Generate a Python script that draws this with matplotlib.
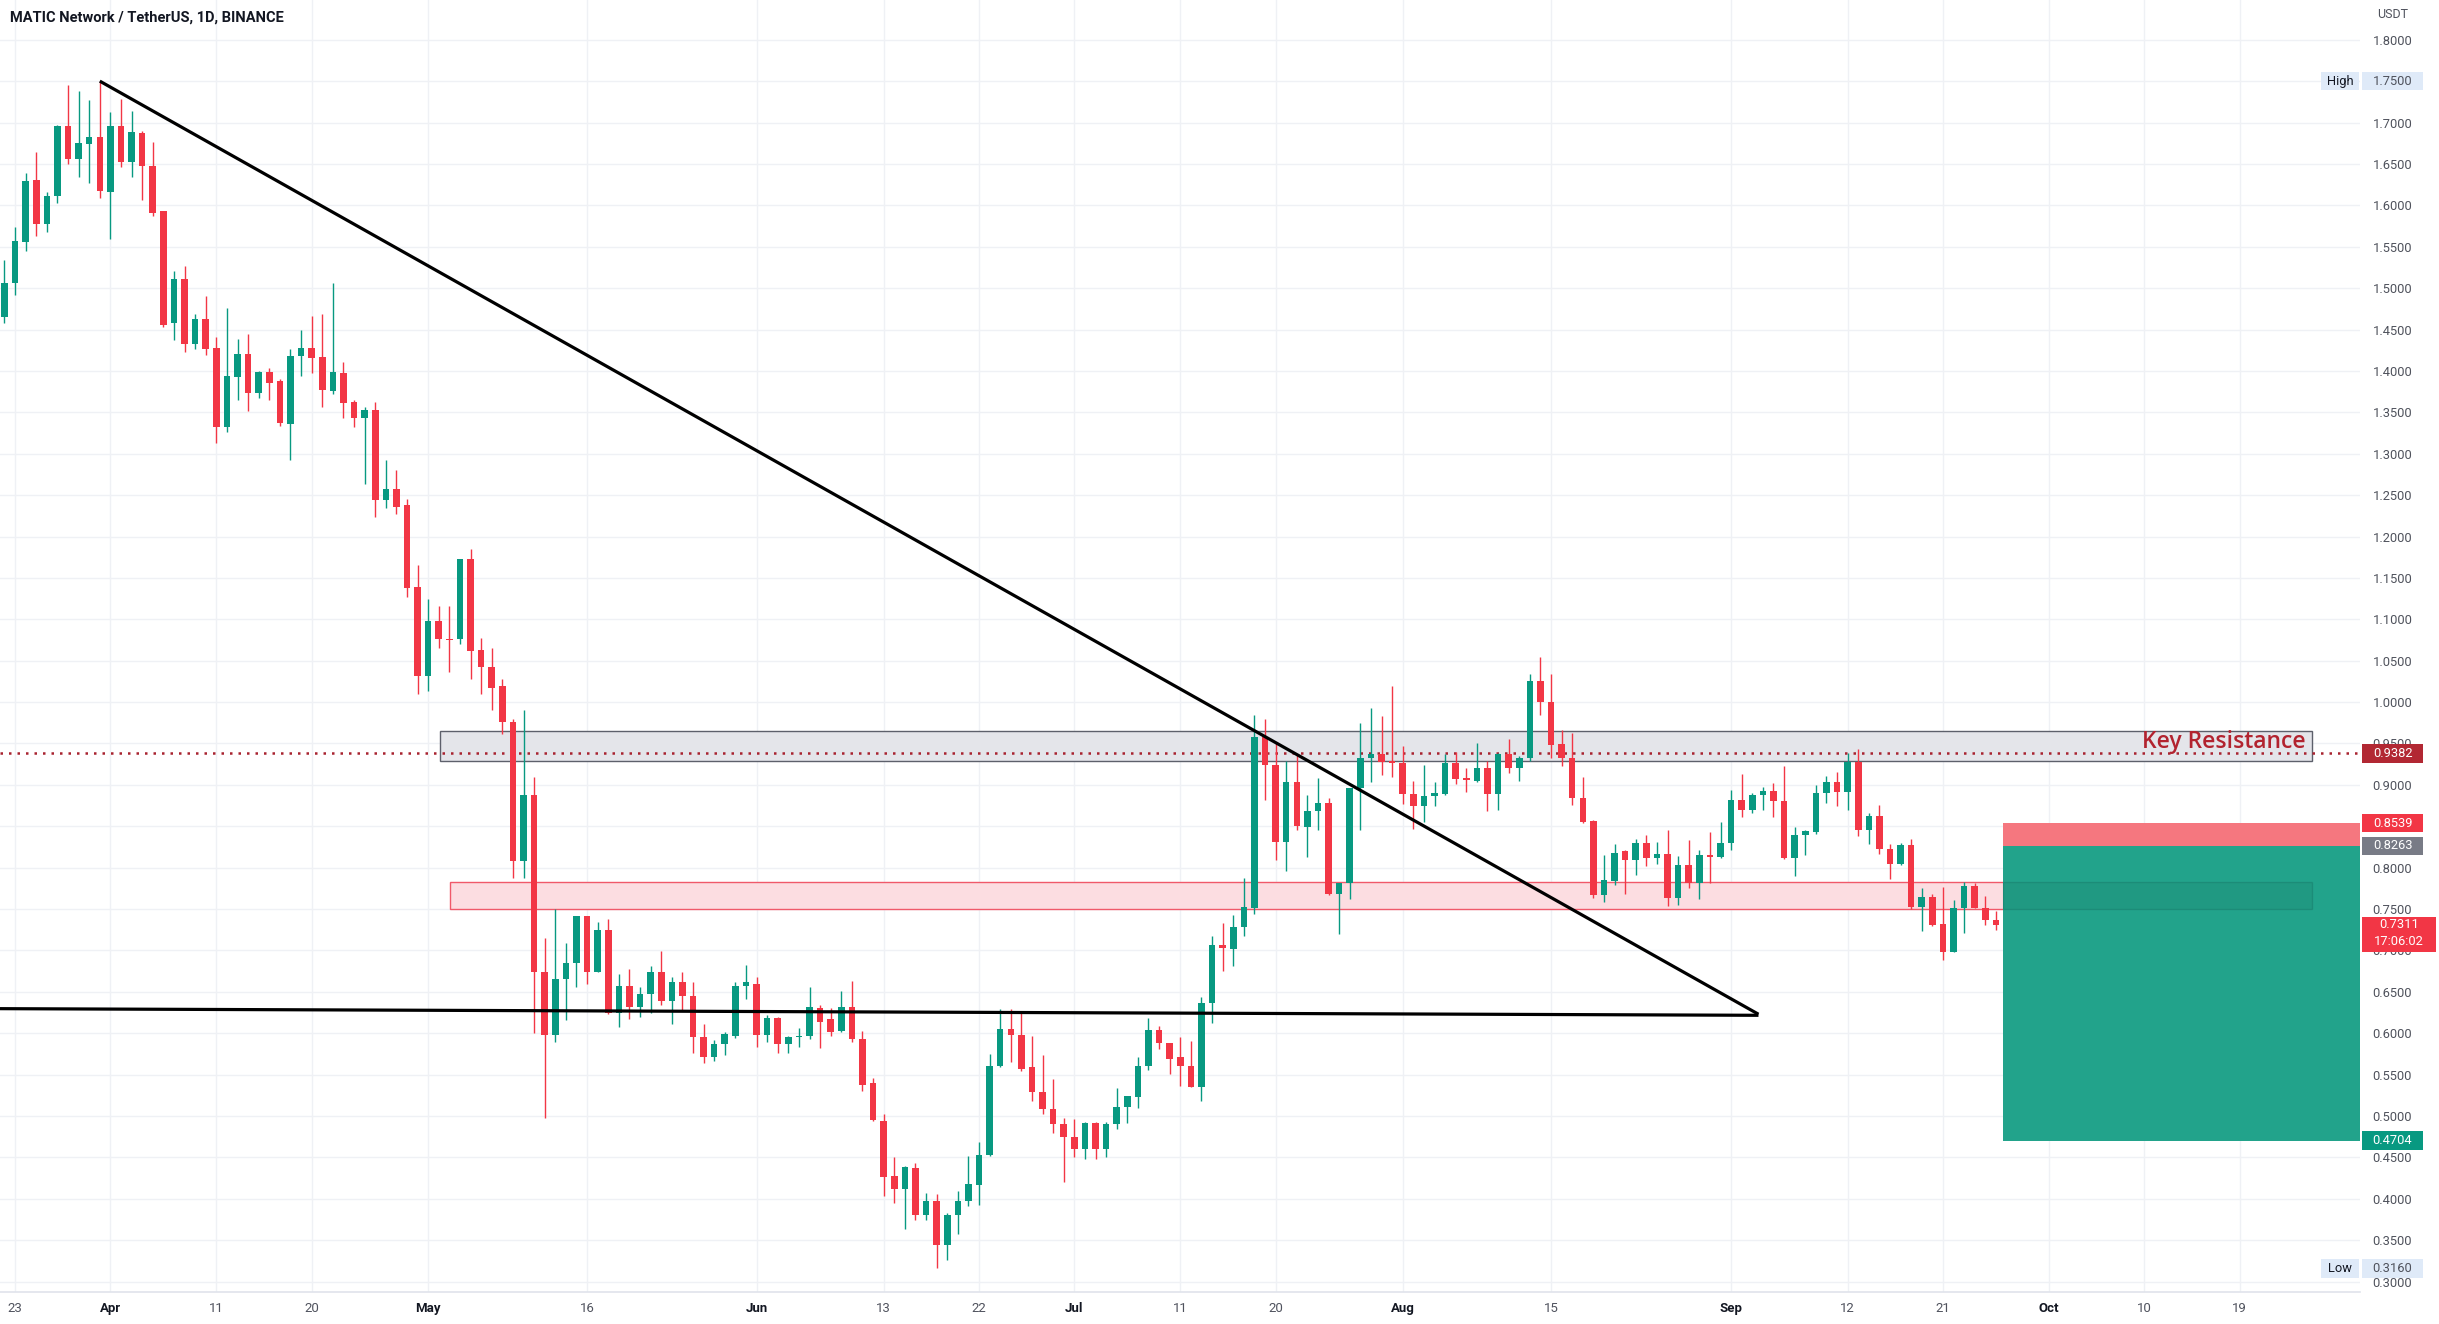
import matplotlib
matplotlib.use("Agg")
import matplotlib.pyplot as plt
import matplotlib.dates as mdates
import matplotlib.transforms as mtransforms
from matplotlib.patches import Rectangle
import numpy as np
import pandas as pd

plt.rcParams['font.family'] = ['Roboto', 'DejaVu Sans']

# MATIC / USDT daily candles, 2022-03-22 .. 2022-09-26
start_date = "2022-03-22"
opens = [
    1.465, 1.506, 1.556, 1.630, 1.578, 1.611, 1.696, 1.656, 1.674, 1.682,
    1.616, 1.696, 1.652, 1.687, 1.647, 1.593, 1.458, 1.511, 1.432, 1.463,
    1.428, 1.332, 1.393, 1.420, 1.373, 1.399, 1.388, 1.336, 1.418, 1.428,
    1.417, 1.376, 1.397, 1.363, 1.343, 1.353, 1.244, 1.257, 1.238, 1.139,
    1.031, 1.098, 1.076, 1.076, 1.173, 1.063, 1.042, 1.019, 0.976, 0.808,
    0.888, 0.674, 0.598, 0.665, 0.685, 0.742, 0.674, 0.725, 0.625, 0.657,
    0.632, 0.648, 0.674, 0.639, 0.662, 0.645, 0.596, 0.571, 0.587, 0.597,
    0.657, 0.660, 0.598, 0.619, 0.587, 0.595, 0.597, 0.631, 0.617, 0.603,
    0.632, 0.593, 0.540, 0.494, 0.428, 0.412, 0.437, 0.381, 0.398, 0.344,
    0.381, 0.398, 0.417, 0.453, 0.561, 0.605, 0.598, 0.559, 0.529, 0.509,
    0.490, 0.475, 0.460, 0.492, 0.460, 0.490, 0.511, 0.523, 0.561, 0.604,
    0.588, 0.571, 0.561, 0.535, 0.637, 0.707, 0.702, 0.728, 0.751, 0.958,
    0.924, 0.831, 0.904, 0.849, 0.869, 0.878, 0.768, 0.782, 0.896, 0.933,
    0.937, 0.929, 0.926, 0.889, 0.875, 0.887, 0.889, 0.926, 0.908, 0.905,
    0.921, 0.889, 0.937, 0.920, 0.933, 1.025, 1.000, 0.949, 0.933, 0.884,
    0.856, 0.767, 0.784, 0.820, 0.809, 0.830, 0.812, 0.817, 0.763, 0.803,
    0.781, 0.815, 0.813, 0.830, 0.882, 0.870, 0.888, 0.893, 0.880, 0.812,
    0.839, 0.843, 0.890, 0.904, 0.892, 0.928, 0.845, 0.863, 0.823, 0.804,
    0.827, 0.752, 0.765, 0.732, 0.698, 0.751, 0.778, 0.751, 0.737,
]
highs = [
    1.534, 1.574, 1.639, 1.664, 1.616, 1.697, 1.745, 1.738, 1.727, 1.750,
    1.713, 1.729, 1.714, 1.690, 1.676, 1.593, 1.521, 1.527, 1.469, 1.490,
    1.441, 1.476, 1.438, 1.444, 1.400, 1.403, 1.390, 1.426, 1.450, 1.466,
    1.469, 1.506, 1.411, 1.365, 1.357, 1.363, 1.292, 1.280, 1.245, 1.165,
    1.124, 1.116, 1.116, 1.173, 1.185, 1.078, 1.065, 1.028, 0.980, 0.990,
    0.910, 0.715, 0.750, 0.709, 0.742, 0.742, 0.734, 0.738, 0.672, 0.678,
    0.656, 0.681, 0.699, 0.668, 0.674, 0.662, 0.611, 0.592, 0.601, 0.662,
    0.682, 0.668, 0.622, 0.620, 0.597, 0.606, 0.656, 0.634, 0.631, 0.651,
    0.663, 0.603, 0.546, 0.503, 0.451, 0.440, 0.443, 0.407, 0.406, 0.383,
    0.409, 0.452, 0.469, 0.575, 0.629, 0.629, 0.627, 0.597, 0.574, 0.545,
    0.498, 0.496, 0.493, 0.493, 0.493, 0.534, 0.524, 0.571, 0.618, 0.609,
    0.588, 0.596, 0.591, 0.644, 0.717, 0.733, 0.743, 0.788, 0.985, 0.979,
    0.952, 0.929, 0.936, 0.888, 0.908, 0.884, 0.782, 0.896, 0.975, 0.993,
    0.983, 1.019, 0.947, 0.905, 0.924, 0.903, 0.937, 0.940, 0.920, 0.950,
    0.929, 0.939, 0.955, 0.935, 1.034, 1.054, 1.034, 0.966, 0.963, 0.909,
    0.857, 0.815, 0.829, 0.821, 0.835, 0.839, 0.831, 0.846, 0.814, 0.833,
    0.821, 0.843, 0.855, 0.894, 0.913, 0.890, 0.898, 0.902, 0.923, 0.849,
    0.845, 0.900, 0.911, 0.916, 0.939, 0.943, 0.866, 0.876, 0.829, 0.830,
    0.835, 0.775, 0.768, 0.777, 0.761, 0.783, 0.781, 0.766, 0.748,
]
lows = [
    1.458, 1.492, 1.545, 1.563, 1.568, 1.603, 1.650, 1.634, 1.627, 1.609,
    1.559, 1.646, 1.634, 1.607, 1.587, 1.453, 1.437, 1.423, 1.426, 1.419,
    1.313, 1.326, 1.365, 1.351, 1.367, 1.365, 1.333, 1.292, 1.394, 1.397,
    1.357, 1.372, 1.343, 1.332, 1.264, 1.224, 1.235, 1.227, 1.127, 1.010,
    1.014, 1.065, 1.036, 1.070, 1.028, 1.010, 0.991, 0.961, 0.788, 0.788,
    0.600, 0.498, 0.590, 0.616, 0.656, 0.659, 0.674, 0.623, 0.608, 0.617,
    0.620, 0.625, 0.634, 0.611, 0.628, 0.576, 0.564, 0.566, 0.574, 0.594,
    0.641, 0.584, 0.590, 0.576, 0.576, 0.583, 0.593, 0.582, 0.597, 0.602,
    0.590, 0.530, 0.494, 0.403, 0.395, 0.363, 0.374, 0.375, 0.316, 0.326,
    0.358, 0.391, 0.392, 0.452, 0.559, 0.565, 0.555, 0.518, 0.503, 0.479,
    0.420, 0.450, 0.448, 0.448, 0.450, 0.484, 0.492, 0.510, 0.556, 0.581,
    0.551, 0.536, 0.535, 0.518, 0.612, 0.675, 0.681, 0.717, 0.744, 0.882,
    0.809, 0.796, 0.845, 0.813, 0.845, 0.767, 0.720, 0.762, 0.845, 0.903,
    0.912, 0.909, 0.877, 0.847, 0.855, 0.875, 0.888, 0.901, 0.892, 0.903,
    0.868, 0.870, 0.914, 0.905, 0.929, 0.985, 0.933, 0.923, 0.876, 0.854,
    0.763, 0.758, 0.779, 0.768, 0.791, 0.802, 0.804, 0.754, 0.755, 0.776,
    0.762, 0.782, 0.812, 0.821, 0.861, 0.866, 0.870, 0.861, 0.811, 0.790,
    0.815, 0.841, 0.878, 0.874, 0.870, 0.838, 0.828, 0.817, 0.786, 0.803,
    0.750, 0.724, 0.729, 0.689, 0.698, 0.721, 0.751, 0.731, 0.725,
]
closes = [
    1.506, 1.557, 1.629, 1.577, 1.611, 1.696, 1.656, 1.675, 1.682, 1.617,
    1.696, 1.652, 1.688, 1.647, 1.591, 1.455, 1.511, 1.432, 1.463, 1.426,
    1.332, 1.394, 1.420, 1.373, 1.399, 1.386, 1.337, 1.418, 1.428, 1.415,
    1.377, 1.399, 1.361, 1.343, 1.353, 1.244, 1.257, 1.236, 1.138, 1.031,
    1.098, 1.076, 1.075, 1.173, 1.062, 1.042, 1.017, 0.976, 0.808, 0.888,
    0.674, 0.598, 0.665, 0.685, 0.742, 0.674, 0.725, 0.625, 0.657, 0.632,
    0.648, 0.674, 0.639, 0.662, 0.645, 0.596, 0.571, 0.587, 0.599, 0.657,
    0.662, 0.598, 0.619, 0.587, 0.595, 0.597, 0.632, 0.614, 0.602, 0.632,
    0.593, 0.537, 0.495, 0.426, 0.412, 0.439, 0.381, 0.397, 0.344, 0.381,
    0.398, 0.418, 0.453, 0.561, 0.605, 0.598, 0.557, 0.529, 0.508, 0.490,
    0.475, 0.460, 0.492, 0.460, 0.491, 0.511, 0.524, 0.561, 0.604, 0.588,
    0.569, 0.561, 0.535, 0.637, 0.707, 0.703, 0.728, 0.752, 0.958, 0.924,
    0.831, 0.904, 0.850, 0.869, 0.878, 0.768, 0.782, 0.896, 0.933, 0.937,
    0.928, 0.926, 0.889, 0.875, 0.887, 0.890, 0.927, 0.907, 0.906, 0.921,
    0.889, 0.937, 0.920, 0.933, 1.025, 1.000, 0.948, 0.933, 0.884, 0.855,
    0.767, 0.785, 0.818, 0.809, 0.830, 0.812, 0.817, 0.763, 0.803, 0.781,
    0.815, 0.813, 0.830, 0.882, 0.870, 0.888, 0.893, 0.880, 0.812, 0.839,
    0.844, 0.890, 0.904, 0.892, 0.928, 0.845, 0.863, 0.822, 0.804, 0.827,
    0.752, 0.765, 0.731, 0.698, 0.751, 0.778, 0.751, 0.737, 0.7311,
]

xtick_dates = ["2022-03-23", "2022-04-01", "2022-04-11", "2022-04-20", "2022-05-01",
               "2022-05-16", "2022-06-01", "2022-06-13", "2022-06-22", "2022-07-01",
               "2022-07-11", "2022-07-20", "2022-08-01", "2022-08-15", "2022-09-01",
               "2022-09-12", "2022-09-21", "2022-10-01", "2022-10-10", "2022-10-19"]
xtick_labels = ["23", "Apr", "11", "20", "May", "16", "Jun", "13", "22", "Jul",
                "11", "20", "Aug", "15", "Sep", "12", "21", "Oct", "10", "19"]
price_ticks = np.round(np.arange(0.30, 1.801, 0.05), 2)

# drawings on the chart
trend_dates = ["2022-03-31", "2022-09-03 14:00"]
trend_prices = [1.750, 0.623]
support_dates = ["2022-03-20", "2022-09-03 14:00"]
support_prices = [0.6298, 0.6217]
resistance_zone = ("2022-05-02 02:00", "2022-10-25 19:00", 0.9285, 0.9655)
demand_zone = ("2022-05-03 02:00", "2022-10-25 19:00", 0.7500, 0.7830)
resistance_level = 0.9382
trade_start = "2022-09-26 17:00"
entry, stop, target = 0.8263, 0.8539, 0.4704
last_price, countdown = 0.7311, "17:06:02"
high_price, low_price = 1.7500, 0.3160

UP, DOWN = "#089981", "#f23645"
W, H = 2439, 1324

dates = pd.date_range(start_date, periods=len(opens), freq="D")
x = mdates.date2num(dates)
o, h, l, c = map(np.array, (opens, highs, lows, closes))
d0 = mdates.date2num(pd.Timestamp(start_date))
dn = lambda s: mdates.date2num(pd.Timestamp(s))

fig = plt.figure(figsize=(W / 100, H / 100), dpi=100)
ax = fig.add_axes([0, 32 / H, 2360 / W, 1292 / H])
ax.set_xlim(d0 - 0.422, d0 + 222.37)
ax.set_ylim(0.2875, 1.848)

# grid
for t in xtick_dates:
    ax.axvline(dn(t), color="#eff1f5", lw=1, zorder=0)
for p in price_ticks:
    ax.axhline(p, color="#eff1f5", lw=1, zorder=0)

# zones
z = resistance_zone
ax.add_patch(Rectangle((dn(z[0]), z[2]), dn(z[1]) - dn(z[0]), z[3] - z[2],
                       facecolor="#e4e5ea", edgecolor="#5d606b", lw=1.0, zorder=1))
z = demand_zone
ax.add_patch(Rectangle((dn(z[0]), z[2]), dn(z[1]) - dn(z[0]), z[3] - z[2],
                       facecolor="#fcdde1", edgecolor="#f0596a", lw=1.0, zorder=1))
ax.axhline(resistance_level, color="#a8222f", lw=1.8, ls=(0, (1, 2.4)), zorder=2)

# candles
col = np.where(c >= o, UP, DOWN)
ax.vlines(x, l, h, colors=col, lw=1.0, zorder=3)
ax.bar(x, np.maximum(np.abs(c - o), 0.0016), bottom=np.minimum(o, c), width=0.62,
       color=col, linewidth=0, zorder=4)

# trend lines
ax.plot([dn(s) for s in trend_dates], trend_prices, color="black", lw=2.3, zorder=5,
        solid_capstyle="butt")
ax.plot([dn(s) for s in support_dates], support_prices, color="black", lw=2.3, zorder=5,
        solid_capstyle="butt")

# short position box
tx = dn(trade_start)
tw = ax.get_xlim()[1] - tx
ax.add_patch(Rectangle((tx, entry), tw, stop - entry, facecolor="#f5777f",
                       edgecolor="none", zorder=6, clip_on=False))
ax.add_patch(Rectangle((tx, target), tw, entry - target, facecolor="#22a38b",
                       edgecolor="none", zorder=6, clip_on=False))
z = demand_zone
ax.add_patch(Rectangle((tx, z[2]), dn(z[1]) - tx, z[3] - z[2], facecolor=(0, 0, 0, 0.06),
                       edgecolor=(0, 0, 0, 0.10), lw=1.0, zorder=7))

ax.text(dn("2022-10-25 06:00"), 0.9515, "Key Resistance", color="#b2232f", fontsize=16.5,
        ha="right", va="center", fontweight="semibold",
        family=["Open Sans", "DejaVu Sans"], zorder=8)

# axes styling
for s in ax.spines.values():
    s.set_visible(False)
ax.yaxis.tick_right()
ax.set_yticks(price_ticks)
ax.set_yticklabels([f"{p:.4f}" for p in price_ticks])
ax.tick_params(axis="y", length=0, pad=9, labelsize=9.3, labelcolor="#4f525c")
ax.set_xticks([dn(t) for t in xtick_dates])
ax.set_xticklabels(xtick_labels)
ax.tick_params(axis="x", length=0, pad=7, labelsize=9.5, labelcolor="#50535e")
for lab in ax.get_xticklabels():
    if not lab.get_text().isdigit():
        lab.set_fontweight("bold")
        lab.set_color("#131722")
ax.axhline(ax.get_ylim()[0], color="#e0e3eb", lw=1.2, zorder=0, clip_on=False)

# right-side price labels
trans = mtransforms.blended_transform_factory(fig.transFigure, ax.transData)


def price_box(p, txt, fc, tc="white", x0=2362, x1=2423, top=None, bottom=None):
    if top is None:
        top, bottom = p + 0.0112, p - 0.0112
    fig.add_artist(Rectangle((x0 / W, bottom), (x1 - x0) / W, top - bottom,
                             transform=trans, facecolor=fc, edgecolor="none", zorder=10))
    fig.text((x0 + x1) / 2 / W, p, txt, transform=trans, ha="center", va="center",
             color=tc, fontsize=9.3, zorder=11)


price_box(high_price, f"{high_price:.4f}", "#dfeaf8", tc="#4f525c")
price_box(high_price, "High", "#dfeaf8", tc="#131722", x0=2321, x1=2359)
price_box(low_price, f"{low_price:.4f}", "#dfeaf8", tc="#4f525c")
price_box(low_price, "Low", "#dfeaf8", tc="#131722", x0=2321, x1=2359)
price_box(resistance_level, f"{resistance_level:.4f}", "#b22833")
price_box(stop, f"{stop:.4f}", "#f23645")
price_box(entry, f"{entry:.4f}", "#787b86")
price_box(target, f"{target:.4f}", "#089981")
price_box(last_price, f"{last_price:.4f}", "#f23645", x1=2436, top=0.7403, bottom=0.698)
fig.text((2362 + 2436) / 2 / W, 0.7113, countdown, transform=trans, ha="center",
         va="center", color="white", fontsize=9.3, zorder=11)

fig.text(2393 / W, 1 - 15 / H, "USDT", ha="center", va="center", fontsize=9,
         color="#4f525c")
fig.text(10 / W, 1 - 18 / H, "MATIC Network / TetherUS, 1D, BINANCE", ha="left",
         va="center", fontsize=10.5, fontweight="bold", color="#131722")

fig.savefig("out.png", dpi=100, facecolor="white")
